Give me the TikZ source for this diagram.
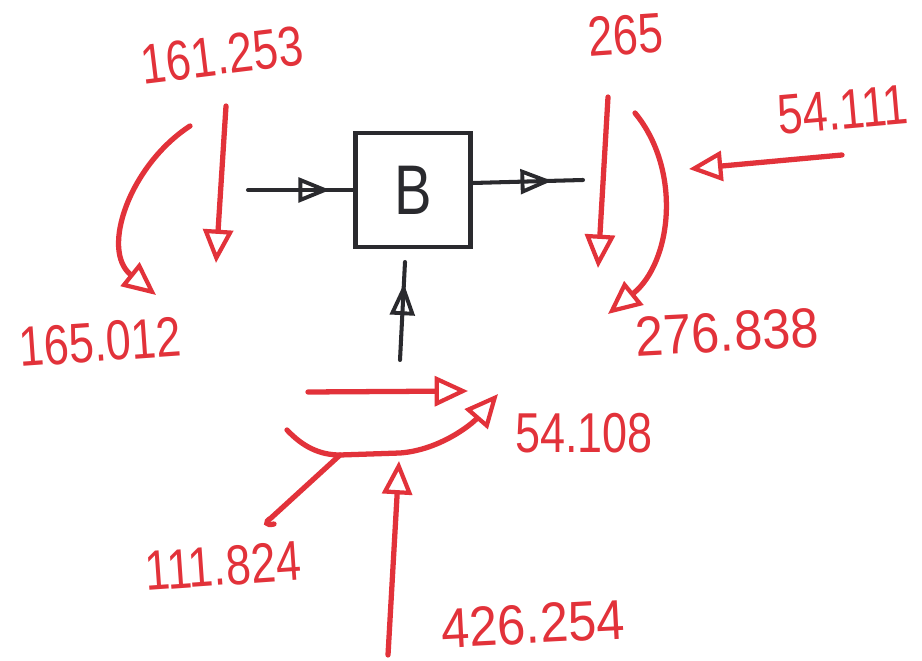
\documentclass[tikz,border=0pt]{standalone}
\usepackage{fontspec}
\setmainfont{Liberation Sans}
\newfontfamily\handfont[FakeStretch=0.8]{Liberation Sans}
\newfontfamily\widehandfont[FakeStretch=0.9]{Liberation Sans}
\usetikzlibrary{arrows.meta,decorations.markings}

\definecolor{marker}{RGB}{226,50,58}
\definecolor{ink}{RGB}{42,42,46}

\tikzset{
  flow/.style={draw=marker, line width=3pt, line cap=round,
    -{Triangle[open, length=19pt, width=17pt, line width=2.4pt]}},
  plainflow/.style={draw=marker, line width=3pt, line cap=round},
  value/.style={text=marker, font=\handfont\fontsize{32}{34}\selectfont, inner sep=0pt},
  widevalue/.style={value, font=\widehandfont\fontsize{32}{34}\selectfont},
  blockbox/.style={draw=ink, line width=2.6pt, minimum width=2.3cm,
    minimum height=2.28cm, font=\handfont\fontsize{40}{42}\selectfont, text=ink},
  midarrow/.style={draw=ink, line width=2.3pt, line cap=round,
    postaction={decorate},
    decoration={markings, mark=at position #1 with
      {\arrow{Triangle[open, length=18pt, width=14pt, line width=2.2pt]}}}}
}

\begin{document}
\begin{tikzpicture}[x=0.02cm, y=-0.02cm]
  \useasboundingbox (0,0) rectangle (922,661);

  % central block
  \node[blockbox] (B) at (413,190) {B};

  % black connections of the block
  \coordinate (inL) at (248,190);
  \coordinate (outR) at (583,180);
  \coordinate (inBot) at (400,360);
  \coordinate (inTop) at (405,262);
  \draw[midarrow=0.78] (inL) -- (B.west |- inL);
  \draw[midarrow=0.72] (B.east |- 0,183) -- (outR);
  \draw[midarrow=0.78] (inBot) -- (inTop);

  % values
  \node[value, rotate=7]  (v161) at (222,55)  {161.253};
  \node[value, rotate=4]  (v165) at (100,342) {165.012};
  \node[value, rotate=4]  (v265) at (626,35)  {265};
  \node[value, rotate=5]  (v54a) at (843,110) {54.111};
  \node[widevalue, rotate=3] (v276) at (727,332) {276.838};
  \node[value, rotate=0]  (v54b) at (584,433) {54.108};
  \node[value, rotate=4]  (v111) at (223,566) {111.824};
  \node[widevalue, rotate=3] (v426) at (533,624) {426.254};

  % left side flows
  \coordinate (a1s) at (226,106);
  \coordinate (a1e) at (216,263);
  \draw[flow] (a1s) -- (a1e);
  \coordinate (a2s) at (190,126);
  \coordinate (a2e) at (156,295);
  \draw[flow] (a2s) .. controls (130,165) and (100,250) .. (a2e);

  % right side flows
  \coordinate (b1s) at (608,97);
  \coordinate (b1e) at (598,268);
  \draw[flow] (b1s) -- (b1e);
  \coordinate (b2s) at (635,113);
  \coordinate (b2e) at (608,314);
  \draw[flow] (b2s) .. controls (682,170) and (672,262) .. (b2e);
  \coordinate (c1s) at (842,155);
  \coordinate (c1e) at (689,169);
  \draw[flow] (c1s) -- (c1e);

  % bottom flows
  \coordinate (d1s) at (308,392);
  \coordinate (d1e) at (468,391);
  \draw[flow] (d1s) -- (d1e);
  \coordinate (d2s) at (287,430);
  \coordinate (d2k) at (340,455);
  \coordinate (d2m) at (400,453);
  \coordinate (d2e) at (498,394);
  \draw[flow] (d2s) .. controls (303,447) and (320,455) .. (d2k)
    -- (d2m) .. controls (440,450) and (472,424) .. (d2e);
  \coordinate (d3e) at (271,518);
  \draw[plainflow] (d2k) -- (d3e) .. controls (264,522) and (266,526) .. (274,524);
  \coordinate (d4s) at (388,655);
  \coordinate (d4e) at (399,461);
  \draw[flow] (d4s) -- (d4e);
\end{tikzpicture}
\end{document}
